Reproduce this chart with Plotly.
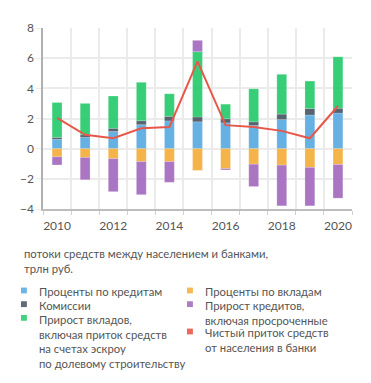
import plotly.graph_objects as go

years = [2010, 2011, 2012, 2013, 2014, 2015, 2016, 2017, 2018, 2019, 2020]
loan_interest = [0.62, 0.75, 1.14, 1.59, 1.84, 1.78, 1.71, 1.54, 1.93, 2.23, 2.36]
commissions = [0.13, 0.17, 0.21, 0.26, 0.30, 0.32, 0.27, 0.24, 0.36, 0.43, 0.32]
deposit_growth = [2.31, 2.08, 2.14, 2.55, 1.50, 4.33, 0.97, 2.19, 2.64, 1.82, 3.41]
deposit_interest = [-0.54, -0.58, -0.66, -0.86, -0.86, -1.44, -1.32, -1.03, -1.09, -1.24, -1.05]
loan_growth = [-0.54, -1.48, -2.19, -2.19, -1.37, 0.75, -0.09, -1.48, -2.70, -2.55, -2.23]
net_inflow = [2.04, 0.92, 0.69, 1.35, 1.44, 5.79, 1.56, 1.44, 1.18, 0.69, 2.83]

x_tick_vals = [2010, 2012, 2014, 2016, 2018, 2020]
y_tick_vals = [-4, -2, 0, 2, 4, 6, 8]

caption = "потоки средств между населением и банками,<br>трлн руб."
legend_items = [
    ("Проценты по кредитам", "#5DADE2", 0, 0),
    ("Комиссии", "#4D5B6A", 0, 1),
    ("Прирост вкладов,<br>включая приток средств<br>на счетах эскроу<br>по долевому строительству", "#2ECC71", 0, 2),
    ("Проценты по вкладам", "#F5B041", 1, 0),
    ("Прирост кредитов,<br>включая просроченные", "#A66FC0", 1, 1),
    ("Чистый приток средств<br>от населения в банки", "#E8584A", 1, 3),
]

FONT = "Lato"
OFF = 8  # page body margin
W, H = 371 - OFF, 383 - OFF
PL, PR, PT, PB = 39.3, 352, 22.7, 209.3  # plot area in window pixels
ML, MT = PL - OFF, PT - OFF
MR = W - (PR - OFF)
MB = H - (PB - OFF)
pw = PR - PL
ph = PB - PT

def px2paper(x, y):
    return (x - PL) / pw, (PB - y) / ph

fig = go.Figure()
series = [
    (loan_interest, "#5DADE2"),
    (commissions, "#4D5B6A"),
    (deposit_growth, "#2ECC71"),
    (deposit_interest, "#F5B041"),
    (loan_growth, "#A66FC0"),
]
for vals, col in series:
    fig.add_trace(go.Bar(x=years, y=vals, width=0.35,
                         marker=dict(color=col, opacity=0.95, line=dict(color="rgba(255,255,255,0.3)", width=0.6)),
                         showlegend=False, hoverinfo="skip"))
fig.add_trace(go.Scatter(x=years, y=net_inflow, mode="lines", line=dict(color="#E8584A", width=2),
                         showlegend=False, hoverinfo="skip"))

fig.update_layout(
    width=W, height=H, margin=dict(l=ML, r=MR, t=MT, b=MB),
    barmode="relative", plot_bgcolor="white", paper_bgcolor="white",
    font=dict(family=FONT, color="#555", size=12),
    xaxis=dict(range=[2009.5, 2020.5], tickvals=x_tick_vals, showgrid=False, ticks="",
               showline=True, linecolor="#bdbdbd", linewidth=1.5, ticklabelstandoff=5,
               tickfont=dict(size=12, color="#555"),
               minor=dict(tick0=2009.5, dtick=1, showgrid=True, gridcolor="#ebebeb", gridwidth=1.5,
                          ticks="outside", ticklen=4, tickcolor="#cfcfcf")),
    yaxis=dict(range=[-4, 8], tickvals=y_tick_vals, showgrid=True, gridcolor="#ebebeb", gridwidth=1.5,
               zeroline=False, showline=True, linecolor="#b0b0b0", linewidth=1.5,
               ticks="outside", ticklen=5, tickcolor="#ebebeb",
               tickfont=dict(size=12, color="#555")),
)

annotations = []
x0, y0 = px2paper(18, 246)
annotations.append(dict(x=x0, y=y0, xref="paper", yref="paper", text=caption, showarrow=False,
                        xanchor="left", yanchor="top", align="left",
                        font=dict(family=FONT, size=11.3, color="#555")))
shapes = []
col_x = [20, 188]
row_y0 = 293.3
row_h = 14.1
for text, col, c, r in legend_items:
    cy = row_y0 + r * row_h
    cx = col_x[c]
    ax0, ay0 = px2paper(cx - 3, cy - 3)
    ax1, ay1 = px2paper(cx + 3, cy + 3)
    shapes.append(dict(type="rect", xref="paper", yref="paper", x0=ax0, x1=ax1, y0=ay1, y1=ay0,
                       fillcolor=col, line=dict(width=0), opacity=0.9))
    tx, ty = px2paper(cx + 13, cy - 7.5)
    annotations.append(dict(x=tx, y=ty, xref="paper", yref="paper", text=text, showarrow=False,
                            xanchor="left", yanchor="top", align="left",
                            font=dict(family=FONT, size=11.3, color="#555")))
fig.update_layout(annotations=annotations, shapes=shapes)

fig.write_html("out.html")
